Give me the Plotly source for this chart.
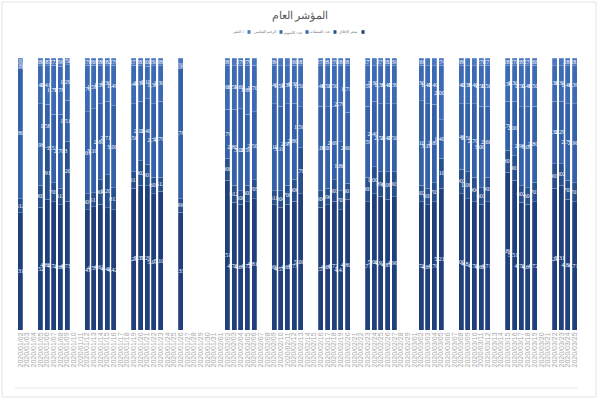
import plotly.graph_objects as go

dates = [
    "2020-01-02",
    "2020-01-05", "2020-01-06", "2020-01-07", "2020-01-08", "2020-01-09",
    "2020-01-12", "2020-01-13", "2020-01-14", "2020-01-15", "2020-01-16",
    "2020-01-19", "2020-01-20", "2020-01-21", "2020-01-22", "2020-01-23",
    "2020-01-26",
    "2020-02-02", "2020-02-03", "2020-02-04", "2020-02-05", "2020-02-06",
    "2020-02-09", "2020-02-10", "2020-02-11", "2020-02-12", "2020-02-13",
    "2020-02-16", "2020-02-17", "2020-02-18", "2020-02-19", "2020-02-20",
    "2020-02-23", "2020-02-24", "2020-02-25", "2020-02-26", "2020-02-27",
    "2020-03-02", "2020-03-03", "2020-03-04", "2020-03-05",
    "2020-03-08", "2020-03-09", "2020-03-10", "2020-03-11", "2020-03-12",
    "2020-03-15", "2020-03-16", "2020-03-17", "2020-03-18", "2020-03-19",
    "2020-03-22", "2020-03-23", "2020-03-24", "2020-03-25",
]

closing = [4312,
    4521, 4803, 4716, 4608, 4735,
    4412, 4530, 4617, 4498, 4421,
    5207, 5318, 5296, 5012, 5108,
    4334,
    5512, 4706, 4615, 4724, 4817,
    4603, 4512, 4621, 4733, 5004,
    4517, 4608, 4726, 4415, 4802,
    4719, 5003, 4922, 4815, 4907,
    4721, 4613, 4708, 5216,
    5009, 4817, 4709, 4621, 4716,
    5806, 5512, 4703, 4617, 4721,
    5208, 5317, 4809, 4716]
trades = [512,
    803, 1912, 705, 612, 2206,
    603, 511, 904, 1207, 812,
    611, 902, 801, 603, 512,
    498,
    808, 612, 508, 603, 705,
    511, 604, 708, 806, 1703,
    604, 596, 803, 702, 601,
    905, 1004, 896, 1003, 903,
    602, 605, 703, 1102,
    902, 1005, 904, 603, 902,
    805, 903, 602, 604, 703,
    903, 802, 705, 703]
shares = [4805,
    2987, 1588, 2511, 2703, 1512,
    3011, 3102, 2803, 2711, 3005,
    2506, 2196, 2407, 2705, 2794,
    4788,
    1795, 2807, 3004, 2596, 2508,
    3197, 3105, 2996, 2804, 1506,
    3106, 3003, 2694, 1803, 2605,
    2596, 2408, 2507, 2496, 2503,
    3104, 3102, 2896, 1405,
    2404, 2503, 2705, 3004, 2603,
    1796, 2004, 2904, 3005, 2803,
    2305, 2296, 2796, 2904]
index_vals = [180,
    1405, 1410, 1796, 1782, 1297,
    1704, 1588, 1396, 1302, 1492,
    1405, 1301, 1196, 1388, 1306,
    190,
    1604, 1596, 1603, 1807, 1702,
    1405, 1503, 1396, 1388, 1504,
    1495, 1512, 1507, 2796, 1711,
    1503, 1306, 1398, 1404, 1396,
    1307, 1404, 1403, 2003,
    1405, 1396, 1403, 1502, 1506,
    1304, 1303, 1506, 1496, 1504,
    1305, 1306, 1405, 1396]
change = [191,
    284, 287, 272, 295, 250,
    270, 269, 280, 282, 270,
    271, 283, 300, 292, 280,
    190,
    281, 279, 270, 270, 268,
    284, 276, 279, 269, 283,
    278, 281, 270, 284, 281,
    277, 279, 277, 282, 291,
    266, 276, 290, 274,
    280, 279, 279, 270, 273,
    289, 278, 285, 278, 269,
    279, 279, 285, 281]

series_names = ["سعر الإغلاق", "عدد الصفقات", "عدد الأسهم", "الرقم القياسي", "التغير ٪"]
series_values = [closing, trades, shares, index_vals, change]
series_colors = ["#1f3f7d", "#28508f", "#3461a9", "#3d6ab4", "#4a77c0"]

fig = go.Figure()
for name, vals, col in zip(series_names, series_values, series_colors):
    fig.add_trace(go.Bar(
        x=dates, y=vals, name=name,
        marker=dict(color=col, line=dict(color="rgba(255,255,255,0.55)", width=0.4)),
        text=[f"{v:,}" for v in vals],
        texttemplate="%{text}",
        textposition="inside",
        insidetextanchor="middle",
        textangle=0,
        textfont=dict(color="white", size=6, family="Liberation Serif"),
        cliponaxis=False,
        showlegend=False,
    ))

L, R, T, B = 17, 22, 58, 70
fig.update_layout(
    width=600, height=400,
    margin=dict(l=L, r=R, t=T, b=B, autoexpand=False),
    paper_bgcolor="white", plot_bgcolor="white",
    barmode="stack", barnorm="percent", bargap=0.25,
    uniformtext=dict(minsize=6, mode="show"),
    title=dict(text="المؤشر العام", x=0.5, xanchor="center",
               y=1 - 15 / 400, yanchor="middle",
               font=dict(size=11, color="#595959", family="Noto Sans")),
    xaxis=dict(type="date", automargin=False,
               range=["2020-01-01 12:00", "2020-03-25 12:00"],
               tickmode="linear", tick0="2020-01-02", dtick=86400000,
               tickformat="%Y/%m/%d", tickangle=-90,
               tickfont=dict(size=7, color="#a8a8a8", family="Liberation Sans"),
               showgrid=False, showline=False, zeroline=False, ticks=""),
    yaxis=dict(visible=False, range=[0, 100]),
)

def px_x(p):
    return (p - L) / (600 - L - R)

def px_y(p):
    return (400 - B - p) / (400 - T - B)

# custom right-to-left legend: each label followed by its colour key on the right
legend_order = [4, 3, 2, 1, 0]
legend_text_right_px = [246, 278, 304, 332, 360]
for k, xp in zip(legend_order, legend_text_right_px):
    fig.add_annotation(xref="paper", yref="paper", x=px_x(xp), y=px_y(32),
                       text=series_names[k], showarrow=False,
                       xanchor="right", yanchor="middle",
                       font=dict(size=4, color="#7f7f7f", family="Noto Sans"))
    fig.add_shape(type="rect", xref="paper", yref="paper",
                  x0=px_x(xp + 1.5), x1=px_x(xp + 4.5),
                  y0=px_y(33.8), y1=px_y(30.2),
                  fillcolor=series_colors[k], line=dict(width=0))

fig.add_shape(type="rect", xref="paper", yref="paper",
              x0=px_x(2), x1=px_x(596), y0=px_y(397), y1=px_y(2),
              line=dict(color="#e3e3e3", width=1), layer="below")
fig.add_shape(type="line", xref="paper", yref="paper",
              x0=px_x(15), x1=px_x(578), y0=px_y(388), y1=px_y(388),
              line=dict(color="#e8e8e8", width=1), layer="below")

fig.write_html("out.html", config={"displayModeBar": False},
               post_script="document.body.style.margin='0';")
